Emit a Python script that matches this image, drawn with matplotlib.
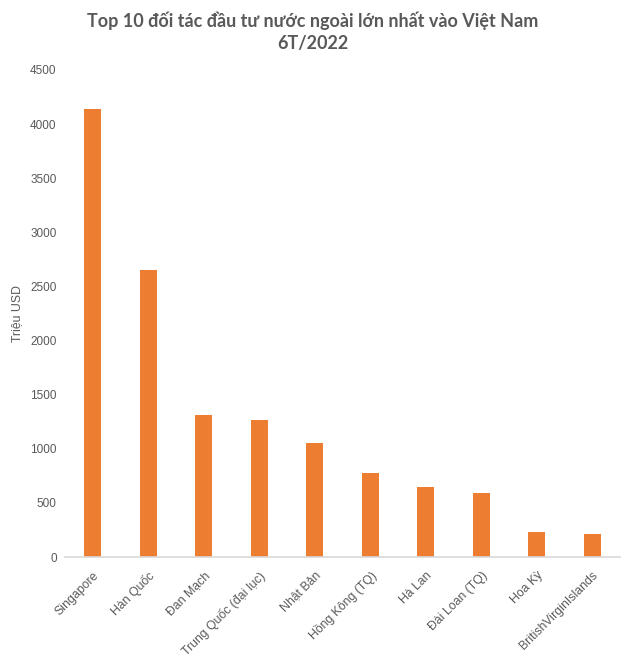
import matplotlib
matplotlib.use("Agg")
import matplotlib.pyplot as plt

categories = ["Singapore", "Hàn Quốc", "Đan Mạch", "Trung Quốc (đại lục)", "Nhật Bản",
              "Hồng Kông (TQ)", "Hà Lan", "Đài Loan (TQ)", "Hoa Kỳ", "BritishVirginIslands"]
values = [4137, 2655, 1315, 1270, 1050, 772, 647, 594, 231, 210]
yticks = [0, 500, 1000, 1500, 2000, 2500, 3000, 3500, 4000, 4500]
title = "Top 10 đối tác đầu tư nước ngoài lớn nhất vào Việt Nam\n6T/2022"
ylabel = "Triệu USD"

plt.rcParams['font.family'] = ['Liberation Sans', 'DejaVu Sans']
fig = plt.figure(figsize=(6.3, 6.63), dpi=100)
ax = fig.add_axes([65/630, 1 - 557/663, 555/630, 487/663])

x = list(range(len(categories)))
ax.bar(x, values, width=0.3, color="#ED7D31")
ax.set_xlim(-0.5, len(categories) - 0.5)
ax.set_ylim(0, 4500)
ax.set_yticks(yticks)
ax.set_yticklabels([str(v) for v in yticks], color="#595959", fontsize=8.5)
ax.set_xticks(x)
ax.set_xticklabels(categories, rotation=45, ha="right", rotation_mode="anchor",
                   color="#595959", fontsize=8.8)
ax.tick_params(axis='both', length=0, pad=6)
ax.tick_params(axis='x', pad=9)
for s in ["top", "right", "left"]:
    ax.spines[s].set_visible(False)
ax.spines["bottom"].set_color("#d9d9d9")
ax.spines["bottom"].set_linewidth(1.2)
ax.set_ylabel(ylabel, color="#595959", fontsize=8.8, labelpad=5)

fig.text(313 / 630, 1 - 32/663, title, ha="center", va="center",
         fontsize=13, fontweight="bold", color="#595959", family=['Lato', 'DejaVu Sans'],
         linespacing=1.35)

fig.savefig("out.png", dpi=100, facecolor="white")
